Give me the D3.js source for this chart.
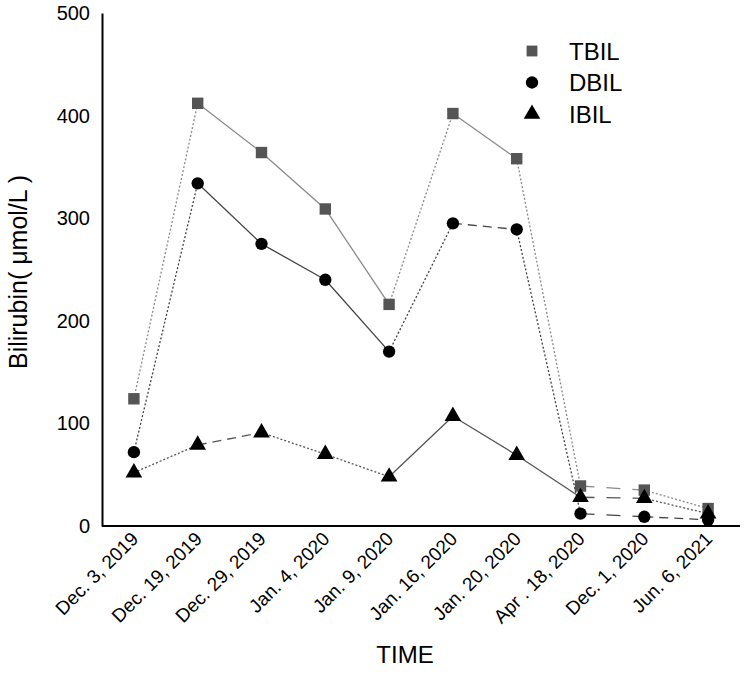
<!DOCTYPE html>
<html><head><meta charset="utf-8">
<script src="https://cdn.jsdelivr.net/npm/d3@7"></script>
<style>body{margin:0;background:#fff}svg{display:block}text{font-family:"Liberation Sans",Arial,sans-serif}</style>
</head><body><svg id="c" width="750" height="675"></svg>
<script>
const dates = ["Dec. 3, 2019","Dec. 19, 2019","Dec. 29, 2019","Jan. 4, 2020","Jan. 9, 2020","Jan. 16, 2020","Jan. 20, 2020","Apr . 18, 2020","Dec. 1, 2020","Jun. 6, 2021"];
const tbil = [124, 412, 364, 309, 216, 402, 358, 39, 35, 17];
const dbil = [72, 334, 275, 240, 170, 295, 289, 12, 9, 6];
const ibil = [52, 79, 91, 70, 48, 107, 69, 28, 27, 12];
const yTicks = [0, 100, 200, 300, 400, 500];

const svg = d3.select("#c");
const m = {l:102, r:10, t:13, b:149};
const W = 750, H = 675;
const x = d3.scalePoint().domain(dates).range([m.l, W - m.r]).padding(0.5);
const y = d3.scaleLinear().domain([0, 500]).range([H - m.b, m.t]);

// segment dash styles
const dot = "2,2", dash = "9,6", solid = null, ldash = "14,12";
const series = [
  {name:"TBIL", vals:tbil, shape:d3.symbolSquare, size:130, fill:"#555", stroke:"#8a8a8a",
   segs:[dot, solid, solid, solid, dot, solid, dot, ldash, dot]},
  {name:"DBIL", vals:dbil, shape:d3.symbolCircle, size:120, fill:"#000", stroke:"#444",
   segs:[dot, solid, solid, solid, dot, dash, dot, ldash, dash]},
  {name:"IBIL", vals:ibil, shape:d3.symbolTriangle, size:120, fill:"#000", stroke:"#555",
   segs:[dot, dash, dot, dot, solid, solid, solid, ldash, dot]}
];

// axes
const gy = svg.append("g").attr("transform", `translate(${m.l},0)`)
  .call(d3.axisLeft(y).tickValues(yTicks).tickSize(0).tickPadding(12));
gy.select(".domain").attr("stroke","#000").attr("stroke-width",2);
gy.selectAll("text").attr("font-size",20).attr("fill","#000").attr("font-family","Liberation Sans, Arial, sans-serif");

const gx = svg.append("g").attr("transform", `translate(0,${H - m.b})`)
  .call(d3.axisBottom(x).tickSize(0).tickPadding(0));
gx.select(".domain").attr("stroke","#000").attr("stroke-width",2)
  .attr("d", `M${m.l},0H${W - m.r}`);
gx.selectAll("text").attr("font-size",19).attr("fill","#000")
  .attr("font-family","Liberation Sans, Arial, sans-serif")
  .attr("text-anchor","end").attr("dy",null).attr("y",0)
  .attr("transform","translate(5,14) rotate(-45)");

// lines
series.forEach(s => {
  const g = svg.append("g");
  for (let i = 0; i < s.vals.length - 1; i++) {
    g.append("line")
      .attr("x1", x(dates[i])).attr("y1", y(s.vals[i]))
      .attr("x2", x(dates[i+1])).attr("y2", y(s.vals[i+1]))
      .attr("stroke", s.stroke).attr("stroke-width", 1.3)
      .attr("stroke-dasharray", s.segs[i]);
  }
});
series.forEach(s => {
  svg.append("g").selectAll("path").data(s.vals).join("path")
    .attr("transform", (d,i) => `translate(${x(dates[i])},${y(d)})`)
    .attr("d", d3.symbol().type(s.shape).size(s.size))
    .attr("fill", s.fill);
});

// legend
const lg = svg.append("g");
series.forEach((s, i) => {
  const yy = 51 + i * 31.5;
  lg.append("path").attr("transform", `translate(532,${yy})`)
    .attr("d", d3.symbol().type(s.shape).size(s.size * (i===0?0.9:1))).attr("fill", s.fill);
  lg.append("text").attr("x", 569).attr("y", yy).attr("dy","0.36em")
    .attr("font-size", 24).attr("fill","#000").text(s.name);
});

// titles
svg.append("text").attr("x", 405).attr("y", 663).attr("text-anchor","middle")
  .attr("font-size", 24).attr("fill","#000").text("TIME");
svg.append("text").attr("transform","translate(27,272) rotate(-90)").attr("text-anchor","middle")
  .attr("font-size", 25).attr("fill","#000").text("Bilirubin( μmol/L )");
</script></body></html>
